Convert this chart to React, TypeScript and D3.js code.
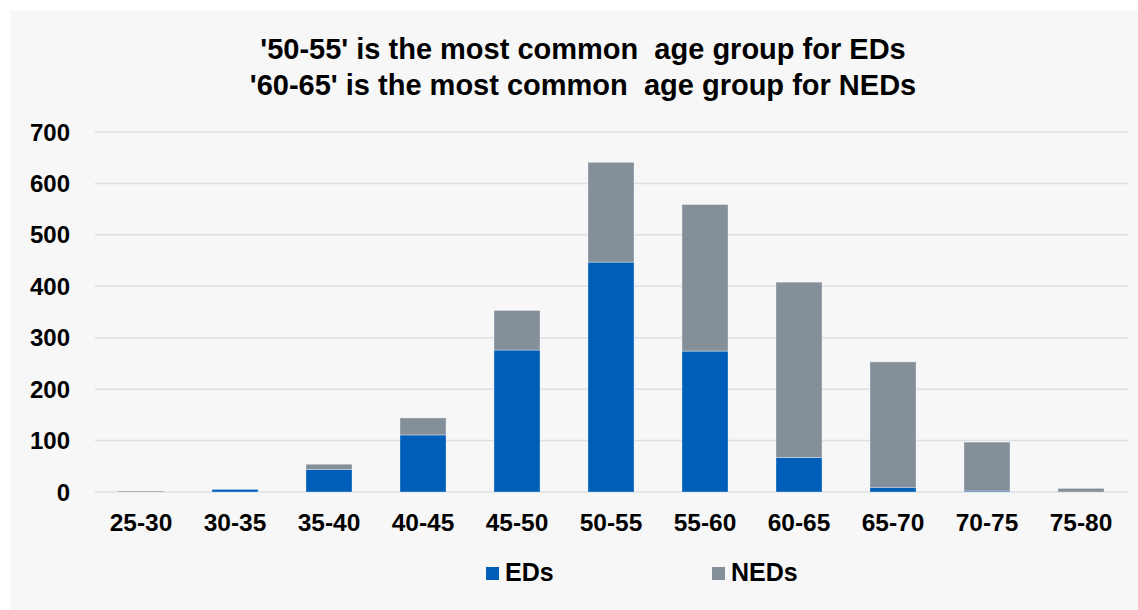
import React from "react";
import * as d3 from "d3";

const categories = ["25-30", "30-35", "35-40", "40-45", "45-50", "50-55", "55-60", "60-65", "65-70", "70-75", "75-80"];
const edValues = [0, 5, 44, 111, 276, 447, 274, 67, 9, 2, 0];
const nedValues = [2, 0, 10, 33, 77, 194, 285, 341, 244, 95, 7];
const yTicks = [0, 100, 200, 300, 400, 500, 600, 700];
const titleLines = ["'50-55' is the most common  age group for EDs", "'60-65' is the most common  age group for NEDs"];
const seriesNames = ["EDs", "NEDs"];
const seriesColors = ["#005EB8", "#848F9A"];

const W = 1138;
const H = 610;
const FONT = "'Liberation Sans', Arial, sans-serif";

export default function App() {
  const x = d3.scaleBand<string>().domain(categories).range([94, 1128]).paddingInner(0.51).paddingOuter(0.255);
  const y = d3.scaleLinear().domain([0, 700]).range([492, 132]);

  const rows = categories.map((c, i) => ({ cat: c, EDs: edValues[i], NEDs: nedValues[i] }));
  const stacked = d3.stack<any>().keys(seriesNames)(rows);

  return (
    <svg width={W} height={H} style={{ position: "absolute", left: 0, top: 0, display: "block" }}>
      <rect x={0} y={0} width={W} height={H} fill="#ffffff" />
      <rect x={10} y={10} width={W - 10} height={H - 10} fill="#f7f7f7" />
      {titleLines.map((t, i) => (
        <text
          key={i}
          x={583}
          y={59 + i * 36}
          textAnchor="middle"
          fontFamily={FONT}
          fontWeight="bold"
          fontSize={29}
          fill="#000"
          style={{ whiteSpace: "pre" }}
        >
          {t}
        </text>
      ))}
      {yTicks.map((t) => (
        <g key={t}>
          <line x1={95} x2={1128} y1={y(t)} y2={y(t)} stroke="#dcdfe4" strokeWidth={1.5} />
          <text x={70} y={y(t) + 8.5} textAnchor="end" fontFamily={FONT} fontWeight="bold" fontSize={24} fill="#000">
            {t}
          </text>
        </g>
      ))}
      {stacked.map((s, si) => (
        <g key={s.key}>
          {s.map((d, i) => {
            const h = y(d[0]) - y(d[1]);
            if (h <= 0) return null;
            return (
              <rect
                key={i}
                x={x(categories[i])!}
                y={y(d[1])}
                width={x.bandwidth()}
                height={h}
                fill={seriesColors[si]}
                stroke="rgba(255,255,255,0.35)"
                strokeWidth={1}
              />
            );
          })}
        </g>
      ))}
      {categories.map((c) => (
        <text key={c} x={x(c)! + x.bandwidth() / 2} y={531} textAnchor="middle" fontFamily={FONT} fontWeight="bold" fontSize={24.5} fill="#000">
          {c}
        </text>
      ))}
      {seriesNames.map((n, i) => (
        <g key={n} transform={`translate(${486 + i * 226},0)`}>
          <rect x={0} y={567} width={13} height={13} fill={seriesColors[i]} />
          <text x={19} y={581} fontFamily={FONT} fontWeight="bold" fontSize={25} fill="#000">
            {n}
          </text>
        </g>
      ))}
    </svg>
  );
}
